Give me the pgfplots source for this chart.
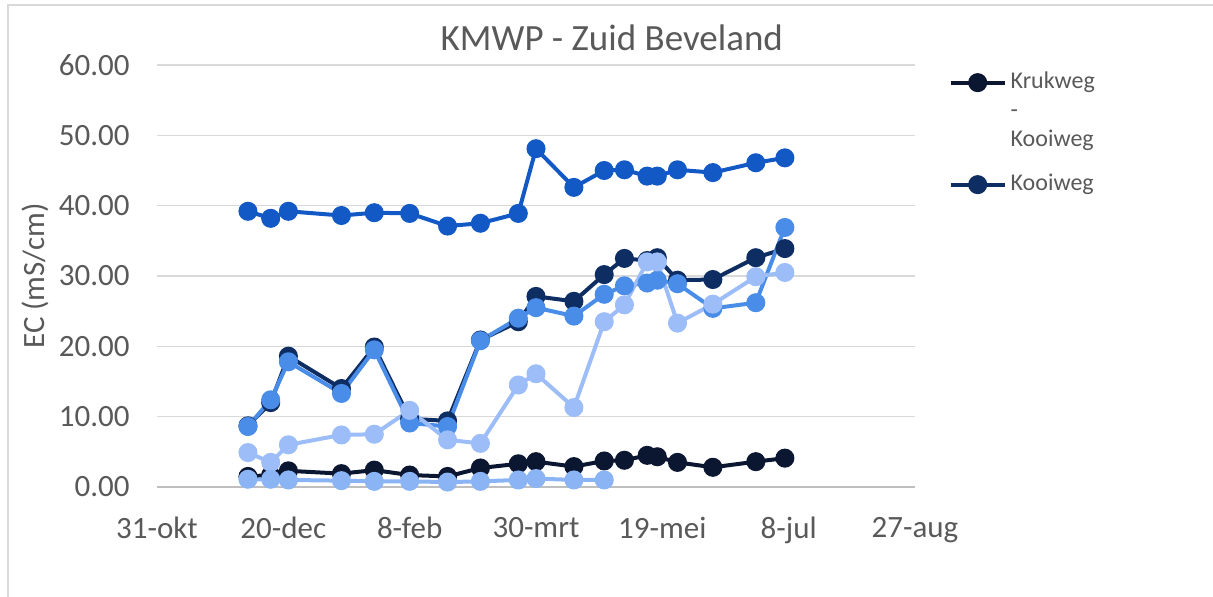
\documentclass[border=0pt]{standalone}
\usepackage{fontspec}
\setmainfont{Carlito}
\usepackage{pgfplots}
\pgfplotsset{compat=1.18}

\definecolor{cA}{HTML}{0B1631}
\definecolor{cB}{HTML}{0D2D63}
\definecolor{cC}{HTML}{1359C6}
\definecolor{cD}{HTML}{4A8DE8}
\definecolor{cE}{HTML}{9DBDF8}
\definecolor{cF}{HTML}{8AB4F4}
\definecolor{txt}{HTML}{595959}
\definecolor{gridc}{HTML}{D9D9D9}
\definecolor{axisc}{HTML}{BFBFBF}

\begin{document}
\begin{tikzpicture}[x=0.5pt,y=0.5pt]
\path[use as bounding box] (0,0) rectangle (1213,597);
\draw[gridc, line width=0.8pt] (8,0) -- (8,592) -- (1213,592);
\begin{axis}[
  at={(78.5pt,55pt)}, anchor=south west,
  width=379pt, height=211pt, scale only axis,
  xmin=0, xmax=300, ymin=0, ymax=60,
  xtick={0,50,...,300},
  xticklabels={31-okt,20-dec,8-feb,30-mrt,19-mei,8-jul,27-aug},
  ytick={0,10,...,60},
  yticklabel={\pgfmathprintnumber[fixed,fixed zerofill,precision=2]{\tick}},
  /pgf/number format/assume math mode=true,
  ymajorgrids, grid style={gridc, line width=0.8pt},
  axis x line=bottom, axis y line=left, axis line style={-},
  y axis line style={draw=none},
  x axis line style={draw=axisc, line width=1pt},
  tick style={draw=none},
  ticklabel style={font=\fontsize{15.5}{18}\selectfont, text=txt},
  xticklabel style={yshift=-9.5pt},
  yticklabel style={xshift=-8pt},
  ylabel={EC (mS/cm)},
  ylabel style={at={(axis description cs:-0.161,0.5)}, anchor=center,
    font=\fontsize{15.5}{18}\selectfont, text=txt},
  title={KMWP - Zuid Beveland},
  title style={at={(axis description cs:0.6,1.007)}, anchor=base,
    font=\fontsize{18.5}{22}\selectfont, text=txt},
  legend style={at={(axis description cs:1.036,1.003)}, anchor=north west,
    draw=none, fill=none, font=\fontsize{12}{15}\selectfont, text=txt,
    row sep=0pt, nodes={inner ysep=0pt, text height=10pt, text depth=4.5pt}},
  legend cell align=left,
  legend image code/.code={
    \draw[mark repeat=2,mark phase=2] plot coordinates {(0pt,0pt) (13.5pt,0pt) (27pt,0pt)};},
  every axis plot/.append style={line width=2pt, mark=*, mark size=3.75pt, mark options={solid}},
]
% Krukweg - Kooiweg
\addplot[cA] coordinates {
(36,1.5) (45,1.7) (52,2.3) (73,1.9) (86,2.4) (100,1.7) (115,1.5) (128,2.7) (143,3.3) (150,3.6)
(165,2.9) (177,3.7) (185,3.8) (194,4.5) (198,4.3) (206,3.5) (220,2.8) (237,3.6) (248.5,4.1)};
\addlegendentry{Krukweg}
\addlegendimage{empty legend}
\addlegendentry{-}
\addlegendimage{empty legend}
\addlegendentry[text depth=12pt]{Kooiweg}
% Kooiweg
\addplot[cB] coordinates {
(36,8.7) (45,12.0) (52,18.6) (73,14.0) (86,19.9) (100,9.7) (115,9.4) (128,20.9) (143,23.5) (150,27.1)
(165,26.4) (177,30.2) (185,32.5) (194,32.2) (198,32.6) (206,29.4) (220,29.5) (237,32.6) (248.5,33.9)};
\addlegendentry{Kooiweg}
\addplot[cC, forget plot] coordinates {
(36,39.2) (45,38.2) (52,39.2) (73,38.6) (86,39.0) (100,38.9) (115,37.1) (128,37.5) (143,38.9) (150,48.1)
(165,42.6) (177,45.0) (185,45.1) (194,44.2) (198,44.2) (206,45.1) (220,44.7) (237,46.1) (248.5,46.8)};
\addplot[cD, forget plot] coordinates {
(36,8.6) (45,12.4) (52,17.8) (73,13.3) (86,19.5) (100,9.1) (115,8.6) (128,20.8) (143,24.0) (150,25.5)
(165,24.3) (177,27.4) (185,28.6) (194,29.0) (198,29.4) (206,28.9) (220,25.4) (237,26.2) (248.5,36.9)};
\addplot[cE, forget plot] coordinates {
(36,4.9) (45,3.5) (52,6.0) (73,7.4) (86,7.5) (100,10.9) (115,6.7) (128,6.2) (143,14.5) (150,16.1)
(165,11.3) (177,23.5) (185,25.9) (194,32.0) (198,32.0) (206,23.3) (220,26.0) (237,29.9) (248.5,30.5)};
\addplot[cF, forget plot] coordinates {
(36,1.1) (45,1.1) (52,1.0) (73,0.9) (86,0.8) (100,0.8) (115,0.7) (128,0.8) (143,1.0) (150,1.2)
(165,1.0) (177,1.0)};
\end{axis}
\end{tikzpicture}
\end{document}
